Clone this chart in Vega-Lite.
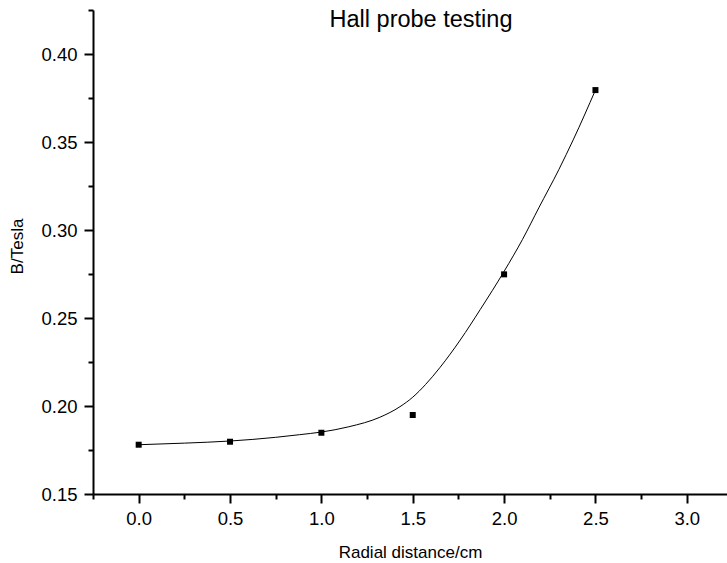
{
  "$schema": "https://vega.github.io/schema/vega-lite/v6.json",
  "width": 634,
  "height": 484,
  "autosize": {"type": "none"},
  "padding": {"left": 93, "top": 10, "right": 0, "bottom": 69},
  "background": "white",
  "title": {
    "text": "Hall probe testing",
    "font": "Liberation Sans",
    "fontSize": 23.5,
    "fontWeight": "normal",
    "color": "black",
    "anchor": "middle",
    "frame": "group",
    "baseline": "alphabetic",
    "offset": -18,
    "dy": 31,
    "dx": 11
  },
  "datasets": {
    "curve": [
      {"x": 0.0, "y": 0.1780},
      {"x": 0.25, "y": 0.1789},
      {"x": 0.5, "y": 0.1801},
      {"x": 0.75, "y": 0.1822},
      {"x": 0.88, "y": 0.1837},
      {"x": 1.0, "y": 0.1852},
      {"x": 1.15, "y": 0.1882},
      {"x": 1.32, "y": 0.1936},
      {"x": 1.43, "y": 0.1996},
      {"x": 1.5, "y": 0.2050},
      {"x": 1.57, "y": 0.2122},
      {"x": 1.65, "y": 0.2220},
      {"x": 1.76, "y": 0.2375},
      {"x": 1.87, "y": 0.2549},
      {"x": 2.0, "y": 0.2765},
      {"x": 2.1, "y": 0.2945},
      {"x": 2.19, "y": 0.3126},
      {"x": 2.3, "y": 0.3344},
      {"x": 2.38, "y": 0.3516},
      {"x": 2.5, "y": 0.3795}
    ],
    "points": [
      {"x": 0.0, "y": 0.178},
      {"x": 0.5, "y": 0.1797},
      {"x": 1.0, "y": 0.1848},
      {"x": 1.5, "y": 0.1949},
      {"x": 2.0, "y": 0.2748},
      {"x": 2.5, "y": 0.3795}
    ]
  },
  "config": {
    "view": {"stroke": null},
    "axis": {
      "grid": false,
      "domainColor": "black",
      "domainWidth": 2,
      "tickColor": "black",
      "tickWidth": 2,
      "labelColor": "black",
      "titleColor": "black",
      "labelFont": "Liberation Sans",
      "titleFont": "Liberation Sans",
      "labelFontSize": 18.5,
      "titleFontSize": 17,
      "titleFontWeight": "normal"
    }
  },
  "encoding": {
    "x": {
      "field": "x",
      "type": "quantitative",
      "scale": {"domain": [-0.25, 3.22], "nice": false, "zero": false},
      "axis": {
        "title": "Radial distance/cm",
        "values": [-0.25, 0, 0.25, 0.5, 0.75, 1, 1.25, 1.5, 1.75, 2, 2.25, 2.5, 2.75, 3],
        "tickSize": {"condition": {"test": "abs(datum.value*2 - round(datum.value*2)) < 1e-6", "value": 9}, "value": 5},
        "labelExpr": "abs(datum.value*2 - round(datum.value*2)) < 1e-6 ? format(datum.value, '.1f') : ''",
        "labelPadding": 6,
        "labelFlush": false,
        "labelOverlap": false,
        "titlePadding": 17
      }
    },
    "y": {
      "field": "y",
      "type": "quantitative",
      "scale": {"domain": [0.15, 0.425], "nice": false, "zero": false},
      "axis": {
        "title": "B/Tesla",
        "values": [0.15, 0.175, 0.2, 0.225, 0.25, 0.275, 0.3, 0.325, 0.35, 0.375, 0.4, 0.425],
        "tickSize": {"condition": {"test": "abs(datum.value*20 - round(datum.value*20)) < 1e-6", "value": 9}, "value": 5},
        "labelExpr": "abs(datum.value*20 - round(datum.value*20)) < 1e-6 ? format(datum.value, '.2f') : ''",
        "labelPadding": 7,
        "labelFlush": false,
        "labelOverlap": false,
        "titlePadding": 14,
        "titleY": 236
      }
    }
  },
  "layer": [
    {
      "data": {"name": "curve"},
      "mark": {"type": "line", "interpolate": "monotone", "color": "black", "strokeWidth": 1}
    },
    {
      "data": {"name": "points"},
      "mark": {"type": "square", "size": 36, "color": "black", "opacity": 1, "filled": true}
    }
  ]
}
